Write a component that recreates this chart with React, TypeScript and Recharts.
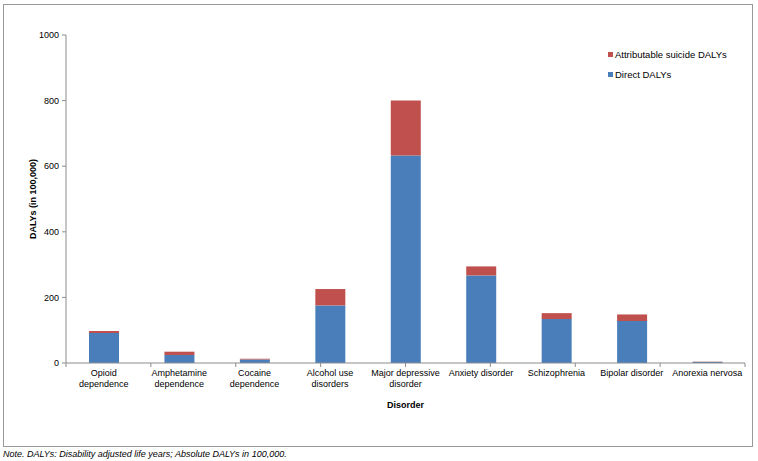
import React from "react";
import { BarChart, Bar, XAxis, YAxis, Legend, Label } from "recharts";

const categories = [
  "Opioid\ndependence",
  "Amphetamine\ndependence",
  "Cocaine\ndependence",
  "Alcohol use\ndisorders",
  "Major depressive\ndisorder",
  "Anxiety disorder",
  "Schizophrenia",
  "Bipolar disorder",
  "Anorexia nervosa",
];
const directDALYs = [91.5, 24.5, 11, 175.5, 633, 267, 134, 128, 3.5];
const suicideDALYs = [6, 10, 2, 50, 167, 27.5, 18, 20, 0.7];
const yTicks = [0, 200, 400, 600, 800, 1000];
const boundaryTicks = [0, 1, 2, 3, 4, 5, 6, 7, 8, 9];
const legendOrder = ["suicide", "direct"];

const BLUE = "#4A7EBB";
const RED = "#C0504D";
const AXIS = "#8C8C8C";
const FONT = "Liberation Sans, Arial, sans-serif";

const data = categories.map((c, i) => ({
  name: c,
  direct: directDALYs[i],
  suicide: suicideDALYs[i],
}));

const CatTick = (props: any) => {
  const { x, y, payload } = props;
  const lines = String(payload.value).split("\n");
  return (
    <text x={x} y={y} textAnchor="middle" fontSize={9} fontFamily={FONT} fill="#000">
      {lines.map((l, i) => (
        <tspan key={i} x={x} dy={i === 0 ? "0.71em" : 11}>
          {l}
        </tspan>
      ))}
    </text>
  );
};

const EmptyTick = () => <g />;

const LegendContent = (props: any) => {
  const items = [...(props.payload || [])].sort(
    (a: any, b: any) => legendOrder.indexOf(a.dataKey) - legendOrder.indexOf(b.dataKey)
  );
  return (
    <div style={{ fontFamily: FONT, fontSize: 9.5, color: "#000" }}>
      {items.map((it: any, i: number) => (
        <div key={i} style={{ display: "flex", alignItems: "center", height: 19.5 }}>
          <span style={{ width: 5, height: 5, background: it.color, display: "inline-block", marginRight: 2 }} />
          <span>{it.value}</span>
        </div>
      ))}
    </div>
  );
};

export default function App() {
  return (
    <div style={{ position: "absolute", left: 0, top: 0, width: 758, height: 461, background: "#fff" }}>
      <div
        style={{
          position: "absolute",
          left: 3,
          top: 4,
          width: 748,
          height: 441,
          border: "1px solid #999",
        }}
      />
      <div style={{ position: "absolute", left: 0, top: 0 }}>
        <BarChart
          width={758}
          height={461}
          data={data}
          margin={{ top: 35, right: 13, bottom: 67, left: 0 }}
          barSize={30}
        >
          <XAxis
            xAxisId="base"
            type="number"
            domain={[0, 9]}
            ticks={boundaryTicks}
            interval={0}
            allowDataOverflow
            height={1}
            tick={<EmptyTick />}
            tickSize={4}
            axisLine={{ stroke: AXIS }}
            tickLine={{ stroke: AXIS }}
          />
          <XAxis
            xAxisId="cat"
            dataKey="name"
            type="category"
            height={30}
            axisLine={false}
            tickLine={false}
            tickSize={0}
            tickMargin={6}
            interval={0}
            tick={<CatTick />}
          >
            <Label
              value="Disorder"
              position="bottom"
              offset={8}
              style={{ fontFamily: FONT, fontSize: 9, fontWeight: "bold", fill: "#000" }}
            />
          </XAxis>
          <YAxis
            width={66}
            domain={[0, 1000]}
            ticks={yTicks}
            interval={0}
            tickSize={4}
            tickMargin={3}
            axisLine={{ stroke: AXIS }}
            tickLine={{ stroke: AXIS }}
            tick={{ fontFamily: FONT, fontSize: 9, fill: "#000" }}
          >
            <Label
              value="DALYs (in 100,000)"
              angle={-90}
              position="center"
              style={{ fontFamily: FONT, fontSize: 9, fontWeight: "bold", fill: "#000", textAnchor: "middle" }}
            />
          </YAxis>
          <Legend
            layout="vertical"
            verticalAlign="middle"
            align="center"
            content={<LegendContent />}
            wrapperStyle={{ position: "absolute", top: 45, left: 608, width: 140 }}
          />
          <Bar xAxisId="cat" dataKey="direct" name="Direct DALYs" stackId="a" fill={BLUE} isAnimationActive={false} />
          <Bar
            xAxisId="cat"
            dataKey="suicide"
            name="Attributable suicide DALYs"
            stackId="a"
            fill={RED}
            isAnimationActive={false}
          />
        </BarChart>
      </div>
      <div
        style={{
          position: "absolute",
          left: 3,
          top: 449,
          fontFamily: FONT,
          fontSize: 9,
          fontStyle: "italic",
          color: "#000",
          whiteSpace: "nowrap",
        }}
      >
        Note. DALYs: Disability adjusted life years; Absolute DALYs in 100,000.
      </div>
    </div>
  );
}
